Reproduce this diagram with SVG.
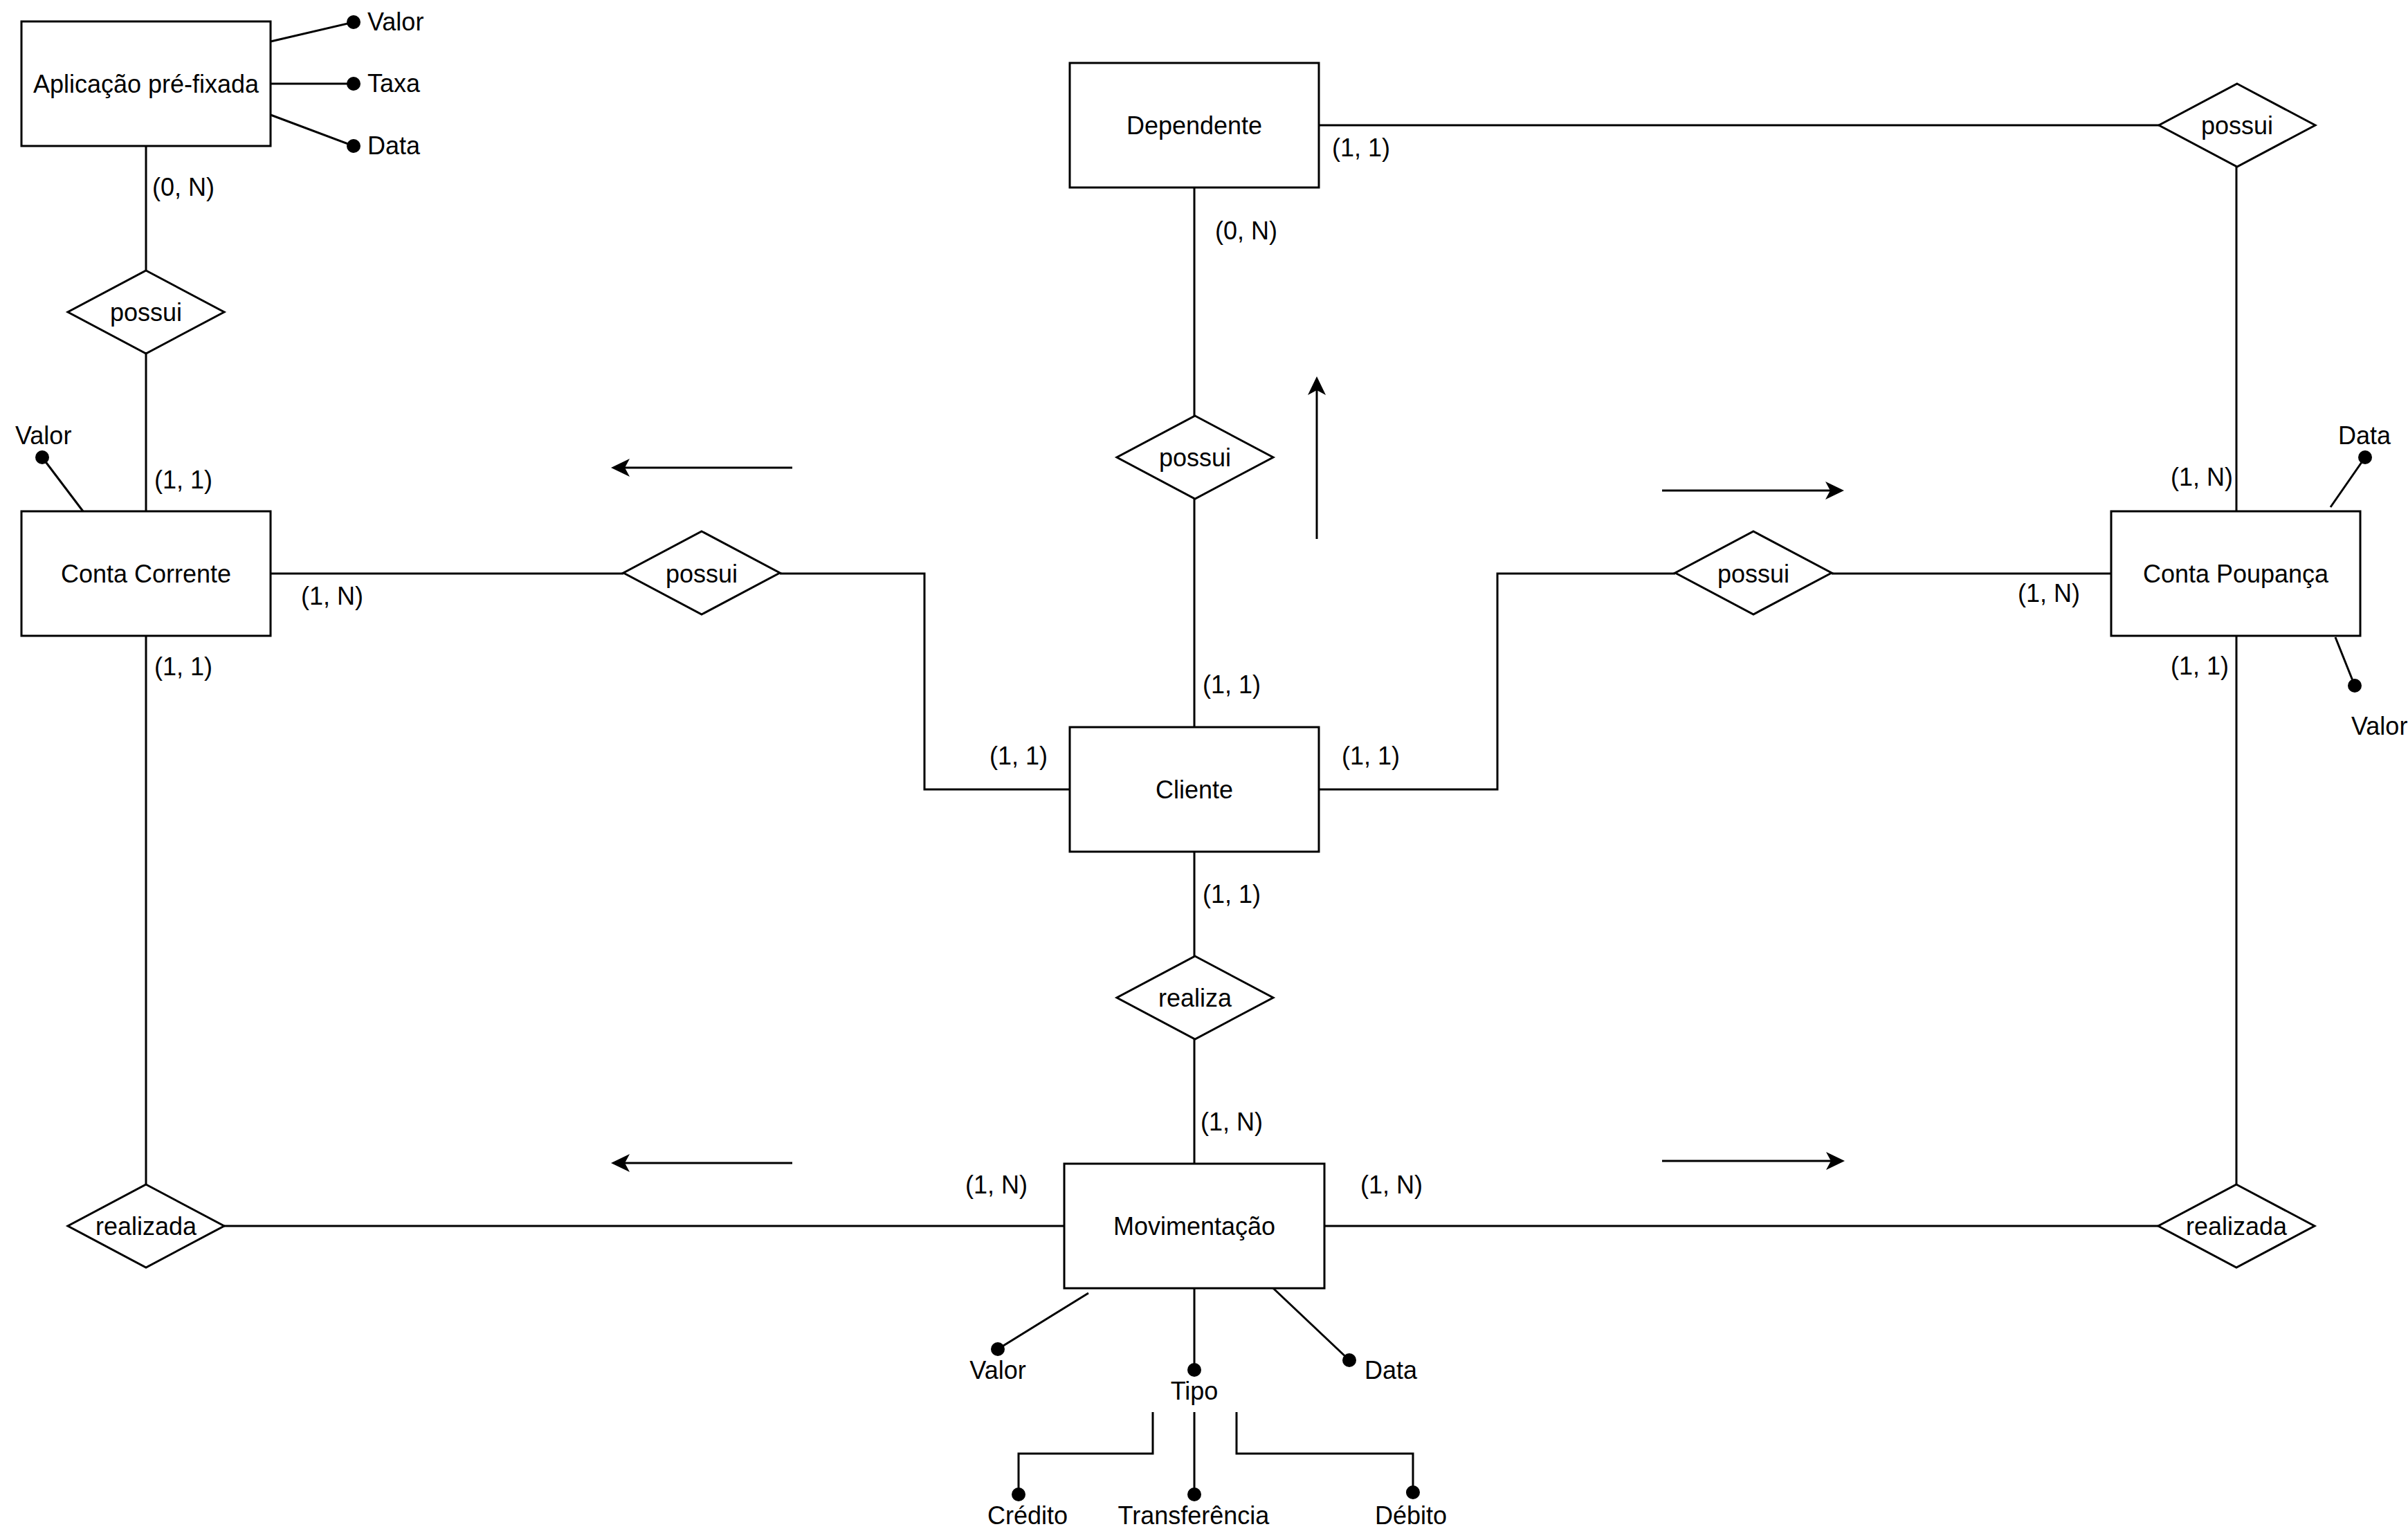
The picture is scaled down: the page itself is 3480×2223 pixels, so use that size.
<svg xmlns="http://www.w3.org/2000/svg" width="3480" height="2223" viewBox="0 0 3480 2223">
<style>
.ent{fill:#fff;stroke:#000;stroke-width:3}
.rel{fill:#fff;stroke:#000;stroke-width:3}
.ln{fill:none;stroke:#000;stroke-width:3}
.dot{fill:#000}
text{font-family:"Liberation Sans",Arial,Helvetica,sans-serif;font-size:36px;fill:#000}
.c{text-anchor:middle}
</style>
<defs>
<marker id="arr" markerUnits="userSpaceOnUse" viewBox="-8 -14 30 28" markerWidth="30" markerHeight="28" refX="0" refY="0" orient="auto">
<path d="M20,0 L-7,-13 L0,0 L-7,13 Z" fill="#000"/>
</marker>
</defs>
<rect width="3480" height="2223" fill="#fff"/>

<g id="connectors">
<path class="ln" d="M211,211 V391"/>
<path class="ln" d="M211,511 V739"/>
<path class="ln" d="M391,829 H901"/>
<path class="ln" d="M1127,829 H1336 V1141 H1546"/>
<path class="ln" d="M1726,271 V601"/>
<path class="ln" d="M1726,721 V1051"/>
<path class="ln" d="M1906,181 H3120"/>
<path class="ln" d="M3232,241 V739"/>
<path class="ln" d="M1906,1141 H2164 V829 H2421"/>
<path class="ln" d="M2647,829 H3051"/>
<path class="ln" d="M1726,1231 V1382"/>
<path class="ln" d="M1726,1502 V1682"/>
<path class="ln" d="M211,919 V1712"/>
<path class="ln" d="M324,1772 H1538"/>
<path class="ln" d="M3232,919 V1712"/>
<path class="ln" d="M3119,1772 H1914"/>
<path class="ln" d="M1145,676 H903" marker-end="url(#arr)"/>
<path class="ln" d="M1903,779 V564" marker-end="url(#arr)"/>
<path class="ln" d="M2402,709 H2645" marker-end="url(#arr)"/>
<path class="ln" d="M1145,1681 H903" marker-end="url(#arr)"/>
<path class="ln" d="M2402,1678 H2646" marker-end="url(#arr)"/>
</g>

<g id="cardinalities">
<text x="220" y="283">(0, N)</text>
<text x="223" y="706">(1, 1)</text>
<text x="435" y="874">(1, N)</text>
<text x="223" y="976">(1, 1)</text>
<text x="1925" y="226">(1, 1)</text>
<text x="1756" y="346">(0, N)</text>
<text x="1738" y="1002">(1, 1)</text>
<text x="1430" y="1105">(1, 1)</text>
<text x="1939" y="1105">(1, 1)</text>
<text x="1738" y="1305">(1, 1)</text>
<text x="1735" y="1634">(1, N)</text>
<text x="1395" y="1725">(1, N)</text>
<text x="1966" y="1725">(1, N)</text>
<text x="3137" y="702">(1, N)</text>
<text x="2916" y="870">(1, N)</text>
<text x="3137" y="975">(1, 1)</text>
</g>

<g id="aplicacao">
<rect class="ent" x="31" y="31" width="360" height="180"/>
<text class="c" x="211" y="134">Aplicação pré-fixada</text>
<path class="ln" d="M391,60 L511,32 M391,121 H511 M391,166 L511,211"/>
<circle class="dot" cx="511" cy="32" r="10"/>
<circle class="dot" cx="511" cy="121" r="10"/>
<circle class="dot" cx="511" cy="211" r="10"/>
<text x="531" y="44">Valor</text>
<text x="531" y="133">Taxa</text>
<text x="531" y="223">Data</text>
</g>

<g id="dependente">
<rect class="ent" x="1546" y="91" width="360" height="180"/>
<text class="c" x="1726" y="194">Dependente</text>
</g>

<g id="conta-corrente">
<rect class="ent" x="31" y="739" width="360" height="180"/>
<text class="c" x="211" y="842">Conta Corrente</text>
<path class="ln" d="M61,661 L120,739"/>
<circle class="dot" cx="61" cy="661" r="10"/>
<text x="22" y="642">Valor</text>
</g>

<g id="conta-poupanca">
<rect class="ent" x="3051" y="739" width="360" height="180"/>
<text class="c" x="3231" y="842">Conta Poupança</text>
<path class="ln" d="M3418,661 L3368,733 M3375,921 L3403,991"/>
<circle class="dot" cx="3418" cy="661" r="10"/>
<circle class="dot" cx="3403" cy="991" r="10"/>
<text x="3379" y="642">Data</text>
<text x="3398" y="1062">Valor</text>
</g>

<g id="cliente">
<rect class="ent" x="1546" y="1051" width="360" height="180"/>
<text class="c" x="1726" y="1154">Cliente</text>
</g>

<g id="movimentacao">
<rect class="ent" x="1538" y="1682" width="376" height="180"/>
<text class="c" x="1726" y="1785">Movimentação</text>
<path class="ln" d="M1573,1869 L1442,1950 M1726,1862 V1980 M1840,1862 L1950,1966"/>
<circle class="dot" cx="1442" cy="1950" r="10"/>
<circle class="dot" cx="1726" cy="1980" r="10"/>
<circle class="dot" cx="1950" cy="1966" r="10"/>
<text class="c" x="1442" y="1993">Valor</text>
<text class="c" x="1726" y="2023">Tipo</text>
<text x="1972" y="1993">Data</text>
<path class="ln" d="M1666,2041 V2101 H1472 V2160 M1726,2041 V2160 M1787,2041 V2101 H2042 V2157"/>
<circle class="dot" cx="1472" cy="2160" r="10"/>
<circle class="dot" cx="1726" cy="2160" r="10"/>
<circle class="dot" cx="2042" cy="2157" r="10"/>
<text class="c" x="1485" y="2203">Crédito</text>
<text class="c" x="1725" y="2203">Transferência</text>
<text class="c" x="2039" y="2203">Débito</text>
</g>

<g id="possui-aplicacao">
<polygon class="rel" points="211,391 324,451 211,511 98,451"/>
<text class="c" x="211" y="464">possui</text>
</g>
<g id="possui-corrente">
<polygon class="rel" points="1014,768 1127,828 1014,888 901,828"/>
<text class="c" x="1014" y="842">possui</text>
</g>
<g id="possui-dependente">
<polygon class="rel" points="1727,601 1840,661 1727,721 1614,661"/>
<text class="c" x="1727" y="674">possui</text>
</g>
<g id="possui-dep-poupanca">
<polygon class="rel" points="3233,121 3346,181 3233,241 3120,181"/>
<text class="c" x="3233" y="194">possui</text>
</g>
<g id="possui-poupanca">
<polygon class="rel" points="2534,768 2647,828 2534,888 2421,828"/>
<text class="c" x="2534" y="842">possui</text>
</g>
<g id="realiza">
<polygon class="rel" points="1727,1382 1840,1442 1727,1502 1614,1442"/>
<text class="c" x="1727" y="1455">realiza</text>
</g>
<g id="realizada-corrente">
<polygon class="rel" points="211,1712 324,1772 211,1832 98,1772"/>
<text class="c" x="211" y="1785">realizada</text>
</g>
<g id="realizada-poupanca">
<polygon class="rel" points="3232,1712 3345,1772 3232,1832 3119,1772"/>
<text class="c" x="3232" y="1785">realizada</text>
</g>
</svg>
